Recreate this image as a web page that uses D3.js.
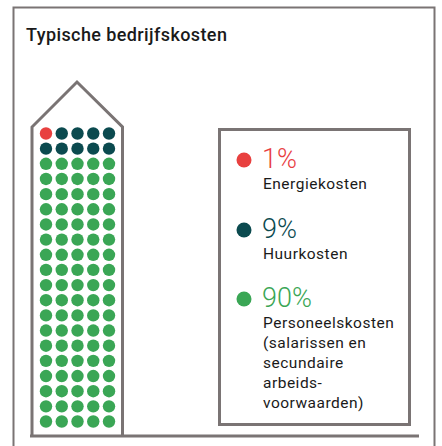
<!DOCTYPE html>
<html>
<head>
<meta charset="utf-8">
<script src="https://cdn.jsdelivr.net/npm/d3@7"></script>
<style>
body{margin:0;background:#fff}
svg{display:block}
text{font-family:"Roboto","Liberation Sans",sans-serif}
</style>
</head>
<body>
<div id="chart"></div>
<script>
// kostenposten, percentages en kleuren
var categories = ["Energiekosten", "Huurkosten", "Personeelskosten"]
var values = [1, 9, 90]
var colors = ["#e8403f", "#0b4a4f", "#3aa655"]
var labels = [
    ["Energiekosten"],
    ["Huurkosten"],
    ["Personeelskosten", "(salarissen en", "secundaire", "arbeids-", "voorwaarden)"]
]
var title = "Typische bedrijfskosten"

var width = 442
var height = 446
var nCols = 5
var nRows = 20
var grey = "#7a7474"

var svg = d3.select("#chart").append("svg")
    .attr("width", width)
    .attr("height", height)

// kader
svg.append("path")
    .attr("d", "M13.5,452 L13.5,7.5 L434.5,7.5 L434.5,452")
    .attr("fill", "none")
    .attr("stroke", grey)
    .attr("stroke-width", 2)

svg.append("text")
    .attr("x", 26)
    .attr("y", 41)
    .attr("font-size", 18)
    .attr("font-weight", 500)
    .attr("letter-spacing", 0.4)
    .attr("fill", "#1a1a1a")
    .text(title)

// huisje
svg.append("path")
    .attr("d", "M32,436 L32,127 L77,82 L122.5,127 L122.5,436")
    .attr("fill", "none")
    .attr("stroke", grey)
    .attr("stroke-width", 3)
    .attr("stroke-linejoin", "miter")

svg.append("line")
    .attr("x1", 30).attr("x2", 419)
    .attr("y1", 436).attr("y2", 436)
    .attr("stroke", grey)
    .attr("stroke-width", 3)

// stippen: elke stip is 1%
var dots = []
values.forEach(function(v, i){
    for(var k = 0; k < v; k++){
        dots.push({cat: i, idx: dots.length})
    }
})

var x = d3.scalePoint()
    .domain(d3.range(nCols))
    .range([46, 109])
var y = d3.scalePoint()
    .domain(d3.range(nRows))
    .range([133.5, 421.5])

svg.append("g").selectAll("circle")
    .data(dots)
    .enter().append("circle")
    .attr("cx", function(d){ return x(d.idx % nCols) })
    .attr("cy", function(d){ return y(Math.floor(d.idx / nCols)) })
    .attr("r", 6.2)
    .attr("fill", function(d){ return colors[d.cat] })

// legenda
svg.append("rect")
    .attr("x", 219.5).attr("y", 129.5)
    .attr("width", 190).attr("height", 295)
    .attr("fill", "none")
    .attr("stroke", grey)
    .attr("stroke-width", 3)

var legendY = [168, 238, 307]
var legend = svg.append("g").selectAll("g")
    .data(categories)
    .enter().append("g")
    .attr("transform", function(d, i){ return "translate(0," + legendY[i] + ")" })

legend.append("circle")
    .attr("cx", 244)
    .attr("cy", -8)
    .attr("r", 7.5)
    .attr("fill", function(d, i){ return colors[i] })

legend.append("text")
    .attr("x", 262)
    .attr("y", 0)
    .attr("font-size", 27)
    .attr("font-weight", 300)
    .attr("fill", function(d, i){ return colors[i] })
    .text(function(d, i){ return values[i] + "%" })

legend.append("text")
    .attr("x", 263)
    .attr("y", 21)
    .attr("font-size", 15.5)
    .attr("fill", "#1a1a1a")
    .attr("letter-spacing", 0.5)
    .selectAll("tspan")
    .data(function(d, i){ return labels[i] })
    .enter().append("tspan")
    .attr("x", 263)
    .attr("dy", function(d, j){ return j === 0 ? 0 : 20 })
    .text(function(d){ return d })
</script>
</body>
</html>
